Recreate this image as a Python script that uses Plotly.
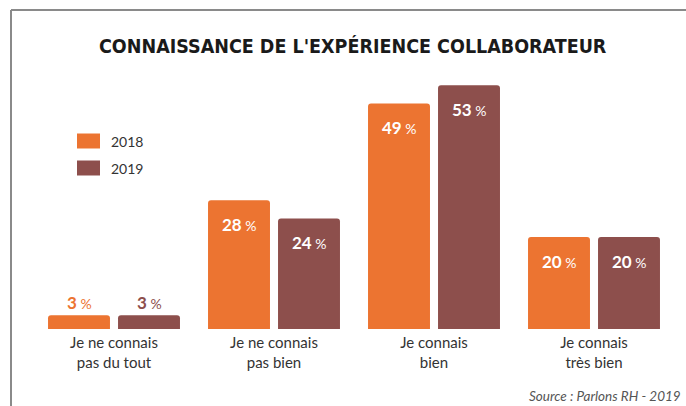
import plotly.graph_objects as go

categories = ["Je ne connais<br>pas du tout", "Je ne connais<br>pas bien", "Je connais<br>bien", "Je connais<br>très bien"]
series_names = ["2018", "2019"]
values_2018 = [3, 28, 49, 20]
values_2019 = [3, 24, 53, 20]
colors = ["#EC7431", "#8D4F4C"]

W, H = 686, 406
ML, MR, MT, MB = 34, 12, 53, 77
YMAX = 60

fig = go.Figure()
for name, vals, col in zip(series_names, [values_2018, values_2019], colors):
    fig.add_trace(go.Bar(x=categories, y=vals, name=name, marker=dict(color=col, line=dict(width=0)),
                         showlegend=False, hoverinfo="skip"))

# value labels
for i, (vals, col) in enumerate(zip([values_2018, values_2019], colors)):
    xs = -35 if i == 0 else 35
    for c, v in zip(categories, vals):
        inside = v >= 10
        fig.add_annotation(
            x=c, y=v, xref="x", yref="y", xshift=xs,
            yshift=-24 if inside else 13,
            text=f"<b>{v}</b><span style='font-size:14px'> %</span>",
            showarrow=False, xanchor="center", yanchor="middle",
            font=dict(family="Lato, Open Sans, sans-serif", size=17,
                      color="white" if inside else col),
        )

pw, ph = W - ML - MR, H - MT - MB
def px(x): return (x - ML) / pw
def py(y): return (H - MB - y) / ph

# frame
fig.add_shape(type="line", xref="paper", yref="paper", x0=px(11), x1=px(690), y0=py(10), y1=py(10),
              line=dict(color="#8a8a8a", width=2))
fig.add_shape(type="line", xref="paper", yref="paper", x0=px(11), x1=px(11), y0=py(10), y1=py(410),
              line=dict(color="#8a8a8a", width=2))

# legend (manual swatches)
for k, (name, col) in enumerate(zip(series_names, colors)):
    yc = 141 + 27 * k
    fig.add_shape(type="rect", xref="paper", yref="paper", x0=px(77), x1=px(100), y0=py(yc - 7.5), y1=py(yc + 7.5),
                  fillcolor=col, line=dict(width=0))
    fig.add_annotation(xref="paper", yref="paper", x=px(109), y=py(yc), xanchor="left", yanchor="middle",
                       text=name, showarrow=False,
                       font=dict(family="Lato, sans-serif", size=14, color="#333333"))

fig.add_annotation(xref="paper", yref="paper", x=px(353), y=py(46), xanchor="center", yanchor="middle",
                   text="<b>CONNAISSANCE DE L'EXPÉRIENCE COLLABORATEUR</b>",
                   showarrow=False, font=dict(family="DejaVu Sans Condensed", size=19.5, color="#1a1a1a"))
fig.add_annotation(xref="paper", yref="paper", x=px(683), y=py(396), xanchor="right", yanchor="middle",
                   text="<i>Source : Parlons RH - 2019</i>", showarrow=False,
                   font=dict(family="Lato, sans-serif", size=13.5, color="#555555"))

fig.update_layout(
    width=W, height=H, margin=dict(l=ML, r=MR, t=MT, b=MB),
    paper_bgcolor="white", plot_bgcolor="white",
    barmode="group", bargap=0.125, bargroupgap=0.115, barcornerradius=3,
    showlegend=False,
    xaxis=dict(showline=False, showgrid=False, zeroline=False, ticks="", ticklabelstandoff=3,
               tickfont=dict(family="Lato, sans-serif", size=15, color="#333333")),
    yaxis=dict(range=[0, YMAX], visible=False, showgrid=False, zeroline=False),
)
fig.write_html("out.html")
